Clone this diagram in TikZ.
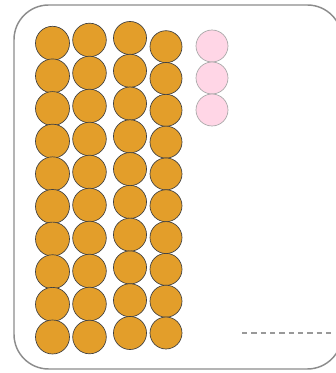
\documentclass[tikz,border=0pt]{standalone}
\usetikzlibrary{positioning,calc}

\begin{document}
\begin{tikzpicture}[
  x=0.75pt, y=-0.75pt,
  frame/.style={draw=black!45,line width=1.1pt,rounded corners=26pt},
  bead/.style={circle,draw=black!75,fill=beadorange,line width=0.5pt,inner sep=0pt},
  spare/.style={circle,draw=black!35,fill=beadpink,line width=0.5pt,inner sep=0pt,minimum size=24pt},
  gap/.style={draw=black!40,dashed,dash pattern=on 4pt off 3pt,line width=1pt}
]
  \definecolor{beadorange}{HTML}{E39E2A}
  \definecolor{beadpink}{HTML}{FFD6E6}
  \useasboundingbox (0,0) rectangle (335,373);
  \draw[frame] (14,5) rectangle (342,369);
  % columns: index / x / top / bottom / size
  \foreach \c/\x/\ytop/\ybot/\d in {1/52.5/43.3/337/25.5, 2/89.5/40/337/25.2, 3/130/38/333/24.8, 4/166/46.7/333/24}{
    \foreach \r in {0,...,9}{
      \node[bead,minimum size=\d pt] (o-\c-\r) at (\x,{\ytop+\r*(\ybot-\ytop)/9}) {};
    }
  }
  \foreach \r/\y in {0/46,1/78,2/110}{
    \node[spare] (p-\r) at (212,\y) {};
  }
  \coordinate (gapstart) at (242,333);
  \coordinate (gapend) at (335,333);
  \draw[gap] (gapstart) -- (gapend);
\end{tikzpicture}
\end{document}
